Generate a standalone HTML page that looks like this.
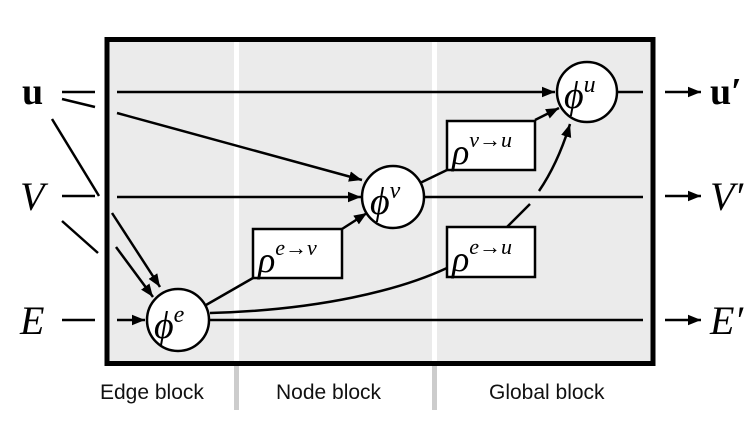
<!DOCTYPE html>
<html><head><style>
html,body{margin:0;padding:0;background:#fff;}
svg{display:block;}
.m{font-family:"Liberation Serif",serif;font-style:italic;}
.s{font-family:"Liberation Sans",sans-serif;font-size:21px;fill:#111;}
</style></head><body>
<svg width="756" height="428" viewBox="0 0 756 428" xmlns="http://www.w3.org/2000/svg">
<defs>
<marker id="a" viewBox="0 0 10 10" refX="10" refY="5" markerWidth="13" markerHeight="13" markerUnits="userSpaceOnUse" orient="auto"><path d="M0,1 L10,5 L0,9 Z" fill="#000"/></marker>
</defs>
<rect x="107" y="39" width="546" height="324" fill="#ebebeb"/>
<rect x="234" y="39" width="5" height="324" fill="#fff"/>
<rect x="432" y="39" width="5" height="324" fill="#fff"/>
<rect x="234" y="363" width="5" height="47" fill="#cccccc"/>
<rect x="432" y="363" width="5" height="47" fill="#cccccc"/>
<rect x="107" y="39.5" width="546" height="324" fill="none" stroke="#000" stroke-width="5"/>
<g stroke="#000" stroke-width="2.5" fill="none">
<line x1="62" y1="92" x2="95" y2="92"/>
<line x1="62" y1="99" x2="95" y2="107"/>
<line x1="52" y1="119" x2="99" y2="196"/>
<line x1="62" y1="196" x2="95" y2="196"/>
<line x1="62" y1="221" x2="98" y2="253"/>
<line x1="62" y1="320" x2="95" y2="320"/>
<line x1="117" y1="92" x2="555" y2="92" marker-end="url(#a)"/>
<line x1="117" y1="113" x2="362" y2="180" marker-end="url(#a)"/>
<line x1="117" y1="197" x2="361" y2="197" marker-end="url(#a)"/>
<line x1="112" y1="213" x2="160" y2="287" marker-end="url(#a)"/>
<line x1="116" y1="247" x2="153" y2="297" marker-end="url(#a)"/>
<line x1="117" y1="320" x2="145" y2="320" marker-end="url(#a)"/>
<line x1="206" y1="305" x2="253" y2="278"/>
<line x1="342" y1="229" x2="367" y2="213" marker-end="url(#a)"/>
<line x1="420" y1="183" x2="447" y2="170"/>
<line x1="535" y1="120" x2="559" y2="108" marker-end="url(#a)"/>
<path d="M210,313 C320,310 400,290 447,268"/>
<path d="M507,227 L530,204"/>
<path d="M539,191 C552,172 562,150 570,124" marker-end="url(#a)"/>
<line x1="424" y1="197" x2="643" y2="197"/>
<line x1="210" y1="320" x2="643" y2="320"/>
<line x1="617" y1="92" x2="643" y2="92"/>
<line x1="665" y1="92" x2="701" y2="92" marker-end="url(#a)"/>
<line x1="665" y1="196" x2="701" y2="196" marker-end="url(#a)"/>
<line x1="665" y1="320" x2="701" y2="320" marker-end="url(#a)"/>
</g>
<g stroke="#000" stroke-width="2.5" fill="#fff">
<circle cx="587" cy="92" r="30"/>
<circle cx="393" cy="197" r="31"/>
<circle cx="178" cy="320" r="31"/>
<rect x="253" y="229" width="89" height="49"/>
<rect x="447" y="121" width="88" height="49"/>
<rect x="447" y="227" width="88" height="50"/>
</g>
<g class="m" fill="#000">
<text x="564" y="108" font-size="38">ϕ<tspan font-size="24" dy="-16">u</tspan></text>
<text x="370" y="214" font-size="38">ϕ<tspan font-size="24" dy="-16">v</tspan></text>
<text x="154" y="338" font-size="38">ϕ<tspan font-size="24" dy="-16">e</tspan></text>
<text x="258" y="272" font-size="36">ρ<tspan font-size="22" dy="-17">e→v</tspan></text>
<text x="452" y="164" font-size="36">ρ<tspan font-size="22" dy="-17">v→u</tspan></text>
<text x="452" y="271" font-size="36">ρ<tspan font-size="22" dy="-17">e→u</tspan></text>
<text x="20" y="210" font-size="40">V</text>
<text x="20" y="334" font-size="40">E</text>
<text x="710" y="210" font-size="40">V′</text>
<text x="710" y="334" font-size="40">E′</text>
</g>
<text x="22" y="104" font-family="Liberation Serif,serif" font-weight="bold" font-size="38">u</text>
<text x="710" y="104" font-family="Liberation Serif,serif" font-weight="bold" font-size="38">u′</text>
<text class="s" x="100" y="399">Edge block</text>
<text class="s" x="276" y="399">Node block</text>
<text class="s" x="489" y="399">Global block</text>
</svg>
</body></html>
